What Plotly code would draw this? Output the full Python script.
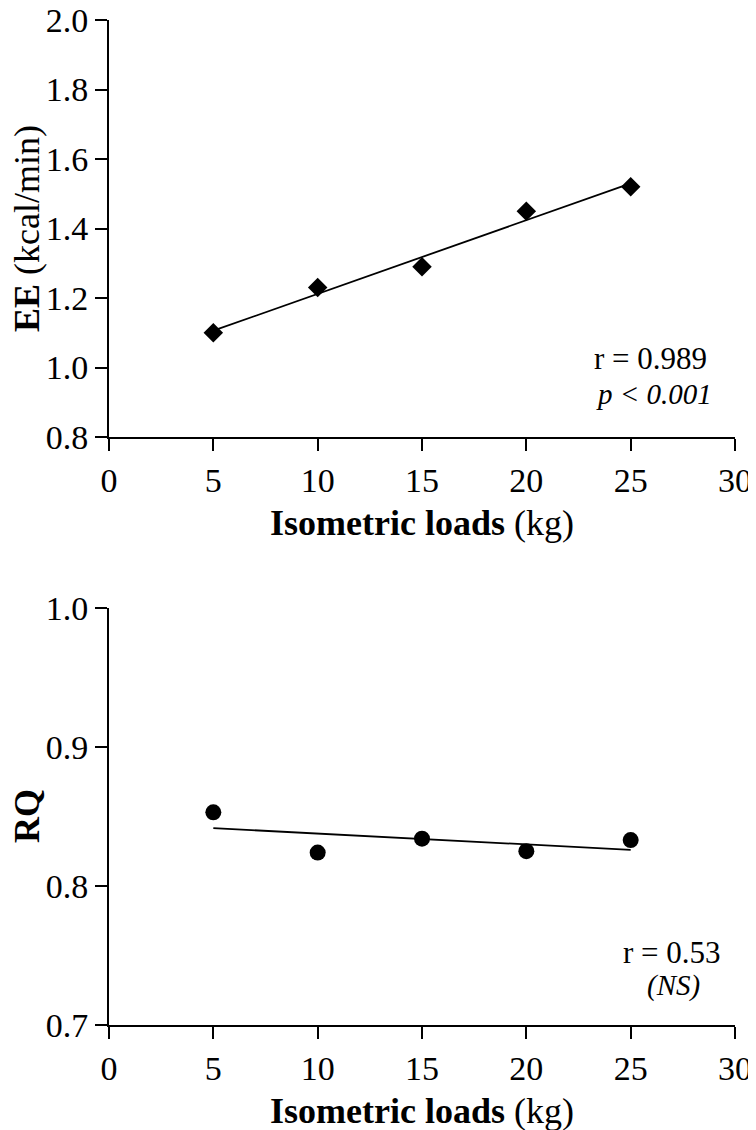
import numpy as np
import plotly.graph_objects as go
from plotly.subplots import make_subplots

# Data
loads = [5, 10, 15, 20, 25]
ee_values = [1.10, 1.23, 1.29, 1.45, 1.52]
rq_values = [0.853, 0.824, 0.834, 0.825, 0.833]
x_ticks = [0, 5, 10, 15, 20, 25, 30]
ee_ticks = [0.8, 1.0, 1.2, 1.4, 1.6, 1.8, 2.0]
rq_ticks = [0.7, 0.8, 0.9, 1.0]

FONT = "Liberation Serif"

# linear regression lines
ee_fit = np.polyfit(loads, ee_values, 1)
rq_fit = np.polyfit(loads, rq_values, 1)
fit_x = [loads[0], loads[-1]]
ee_line = [ee_fit[0] * v + ee_fit[1] for v in fit_x]
rq_line = [rq_fit[0] * v + rq_fit[1] for v in fit_x]

fig = make_subplots(rows=2, cols=1)

fig.add_trace(go.Scatter(x=fit_x, y=ee_line, mode="lines",
                         line=dict(color="black", width=1.8), showlegend=False), row=1, col=1)
fig.add_trace(go.Scatter(x=loads, y=ee_values, mode="markers",
                         marker=dict(symbol="diamond", size=15, color="black"),
                         showlegend=False), row=1, col=1)
fig.add_trace(go.Scatter(x=fit_x, y=rq_line, mode="lines",
                         line=dict(color="black", width=1.8), showlegend=False), row=2, col=1)
fig.add_trace(go.Scatter(x=loads, y=rq_values, mode="markers",
                         marker=dict(symbol="circle", size=16, color="black"),
                         showlegend=False), row=2, col=1)

axis_common = dict(showgrid=False, zeroline=False, showline=True, linecolor="black",
                   linewidth=2, ticks="outside", ticklen=12, tickwidth=2, tickcolor="black",
                   automargin=False, ticklabeloverflow="allow",
                   tickfont=dict(family=FONT, size=34, color="black"))

fig.update_xaxes(range=[0, 30], tickvals=x_ticks, **axis_common)
fig.update_yaxes(**axis_common)
fig.update_yaxes(range=[0.8, 2.0], tickvals=ee_ticks, ticktext=[f"{v:.1f}" for v in ee_ticks],
                 domain=[0.585, 1.0], row=1, col=1)
fig.update_yaxes(range=[0.7, 1.0], tickvals=rq_ticks, ticktext=[f"{v:.1f}" for v in rq_ticks],
                 domain=[0.0, 0.415], row=2, col=1)

title_font = dict(family=FONT, size=36, color="black")
# axis titles (placed as paper annotations)
for ty in [0.4995, -0.0855]:
    fig.add_annotation(x=0.5, y=ty, xref="paper", yref="paper",
                       text="<b>Isometric loads</b> (kg)", showarrow=False,
                       font=title_font, xanchor="center", yanchor="middle")
fig.add_annotation(x=-0.131, y=0.793, xref="paper", yref="paper",
                   text="<b>EE</b> (kcal/min)", textangle=-90, showarrow=False,
                   font=title_font, xanchor="center", yanchor="middle")
fig.add_annotation(x=-0.131, y=0.208, xref="paper", yref="paper",
                   text="<b>RQ</b>", textangle=-90, showarrow=False,
                   font=title_font, xanchor="center", yanchor="middle")

ann_font = dict(family=FONT, size=31, color="black")
ann_ifont = dict(family=FONT, size=29, color="black")
fig.add_annotation(x=25.95, y=1.027, xref="x", yref="y", text="r = 0.989",
                   showarrow=False, font=ann_font, xanchor="center", yanchor="middle")
fig.add_annotation(x=26.1, y=0.925, xref="x", yref="y", text="<i>p &lt; 0.001</i>",
                   showarrow=False, font=ann_ifont, xanchor="center", yanchor="middle")
fig.add_annotation(x=27.0, y=0.7525, xref="x2", yref="y2", text="r = 0.53",
                   showarrow=False, font=ann_font, xanchor="center", yanchor="middle")
fig.add_annotation(x=27.05, y=0.7285, xref="x2", yref="y2", text="<i>(NS)</i>",
                   showarrow=False, font=ann_ifont, xanchor="center", yanchor="middle")

# page body has an 8px margin; figure is sized/offset to compensate
fig.update_layout(width=748, height=1122, margin=dict(l=101, r=21, t=12, b=105),
                  paper_bgcolor="white", plot_bgcolor="white",
                  font=dict(family=FONT, color="black"))

fig.write_html("out.html")
